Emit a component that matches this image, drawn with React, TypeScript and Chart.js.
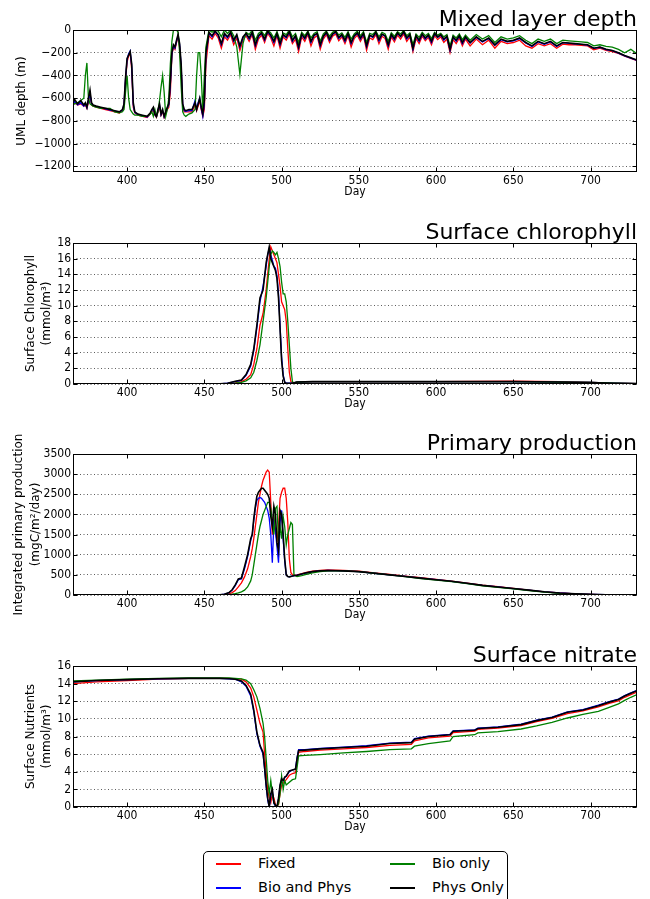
import React, { useEffect, useRef } from 'react';
import { Chart, registerables } from 'chart.js';

Chart.register(...registerables);

// ---------- shared ----------
const SERIES_NAMES = ['Fixed', 'Bio and Phys', 'Bio only', 'Phys Only'];
const SERIES_COLORS = ['#ff0000', '#0000ff', '#008000', '#000000'];
const X_TICKS = [400, 450, 500, 550, 600, 650, 700];
const DAY_MIN = 365;
const DAY_MAX = 730;

// ---------- Mixed layer depth ----------
const MLD_DAYS = [
  365, 366, 368, 370, 372, 373, 374, 375, 376, 377,
  378, 380, 383, 386, 389, 392, 395, 397, 398, 399,
  400, 401, 402, 403, 404, 405, 407, 410, 413, 415,
  416, 417, 418, 419, 420, 421, 422, 423, 424, 425,
  426, 427, 428, 429, 430, 431, 432, 433, 434, 435,
  436, 437, 438, 440, 442, 444, 445, 446, 447, 448,
  449, 450, 451,
  453, 455, 457, 459, 461, 463, 465, 467, 469, 471,
  473, 475, 477, 479, 481, 483, 485, 487, 489, 491,
  493, 495, 497, 499, 501, 503, 505, 507, 509, 511,
  513, 515, 517, 519, 521, 523, 525, 527, 529, 531,
  533, 535, 537, 539, 541, 543, 545, 547, 549, 551,
  553, 555, 557, 559, 561, 563, 565, 567, 569, 571,
  573, 575, 577, 579, 581, 583, 585, 587, 589, 591,
  593, 595, 597, 599, 601, 603, 605, 607, 609, 611,
  613, 615, 617, 619,
  622, 626, 630, 634, 638, 642, 646, 650, 654, 658,
  662, 666, 670, 674, 678, 682, 686, 690, 694, 698,
  702, 706, 710, 714, 718, 722, 726, 730,
];
const MLD_FIXED = [
  -660, -640, -660, -650, -670, -660, -690, -640, -560, -660,
  -670, -680, -690, -700, -710, -720, -730, -710, -680, -450,
  -280, -230, -200, -350, -680, -730, -750, -760, -770, -740,
  -720, -700, -750, -770, -720, -680, -750, -720, -770, -740,
  -700, -680, -550, -220, -150, -170, -110, -60, -150, -350,
  -680, -720, -720, -720, -720, -660, -710, -670, -620, -700,
  -760, -700, -300,
  -50, -80, -30, -70, -160, -60, -90, -40, -130, -70,
  -180, -90, -50, -100, -40, -170, -80, -45, -110, -30,
  -70, -140, -50, -160, -60, -90, -35, -120, -80, -190,
  -60, -100, -40, -140, -70, -50, -170, -80, -40, -110,
  -55, -35, -95, -60, -120, -50, -150, -75, -45, -100,
  -50, -180, -70, -85, -40, -120, -55, -75, -170, -60,
  -105, -45, -80, -35, -100, -60, -190, -75, -120, -55,
  -95, -65, -130, -50, -85, -60, -110, -80, -200, -85,
  -120, -70, -140, -80,
  -140, -80, -130, -90, -160, -100, -120, -110, -90, -140,
  -160, -120, -140, -120, -160, -125, -130, -130, -135, -140,
  -175, -160, -180, -190, -205, -230, -250, -270,
];
const MLD_BIOPHYS = [
  -650, -630, -660, -640, -670, -650, -685, -620, -560, -650,
  -665, -675, -685, -695, -705, -715, -725, -705, -660, -430,
  -260, -210, -185, -320, -660, -725, -745, -755, -765, -735,
  -710, -690, -745, -765, -710, -660, -745, -710, -765, -730,
  -690, -660, -480, -210, -140, -160, -100, -50, -130, -320,
  -660, -710, -715, -710, -710, -620, -700, -640, -600, -690,
  -760, -650, -220,
  -30, -60, -15, -50, -130, -40, -70, -25, -100, -50,
  -150, -70, -35, -80, -25, -140, -60, -30, -90, -15,
  -55, -110, -35, -130, -45, -70, -20, -100, -55, -160,
  -40, -80, -25, -110, -50, -35, -140, -60, -25, -90,
  -40, -20, -75, -45, -100, -35, -120, -55, -30, -80,
  -35, -150, -50, -65, -25, -95, -40, -55, -140, -45,
  -85, -30, -60, -20, -80, -45, -170, -55, -100, -40,
  -80, -50, -110, -35, -65, -45, -90, -60, -180, -65,
  -100, -55, -120, -65,
  -115, -65, -105, -75, -135, -85, -105, -95, -75, -115,
  -145, -105, -125, -105, -145, -112, -118, -122, -127, -133,
  -162, -152, -172, -182, -203, -228, -248, -268,
];
const MLD_BIO = [
  -660, -650, -640, -620, -600, -400, -290, -600, -650, -660,
  -670, -680, -690, -690, -690, -720, -730, -720, -700, -550,
  -400, -600, -700, -720, -740, -750, -750, -760, -760, -740,
  -720, -760, -700, -760, -720, -620, -500, -400, -550, -760,
  -700, -600, -300, -100, 0, 0, 0, -20, -200, -500,
  -720, -750, -760, -740, -730, -700, -400, -200, -200, -400,
  -720, -400, -150,
  0, -20, 0, -10, -60, 0, -30, 0, -50, -150,
  -390, -120, -20, -40, 0, -90, -30, -10, -50, 0,
  -25, -70, -15, -90, -25, -40, 0, -60, -30, -110,
  -20, -50, -10, -70, -30, -15, -100, -35, -10, -55,
  -20, -5, -45, -25, -65, -15, -80, -35, -10, -50,
  -15, -110, -30, -40, -10, -60, -20, -35, -100, -25,
  -55, -15, -35, -5, -50, -25, -130, -35, -65, -20,
  -50, -30, -75, -20, -45, -30, -60, -40, -140, -45,
  -70, -35, -85, -45,
  -90, -40, -80, -50, -110, -60, -80, -70, -50, -90,
  -120, -80, -100, -80, -120, -90, -95, -100, -105, -110,
  -140, -130, -145, -150, -170, -200, -170, -210,
];
const MLD_PHYS = [
  -640, -610, -650, -620, -660, -640, -680, -600, -530, -640,
  -660, -670, -680, -690, -700, -710, -720, -700, -650, -420,
  -250, -220, -190, -300, -640, -720, -740, -750, -760, -730,
  -700, -680, -740, -760, -700, -650, -740, -700, -760, -720,
  -680, -650, -450, -200, -130, -150, -90, -40, -120, -300,
  -650, -700, -710, -700, -700, -640, -700, -650, -600, -680,
  -740, -620, -200,
  -20, -50, -10, -40, -120, -30, -60, -20, -90, -40,
  -140, -60, -30, -70, -20, -130, -50, -25, -80, -10,
  -45, -100, -30, -120, -40, -60, -15, -90, -50, -150,
  -35, -70, -20, -100, -45, -30, -130, -55, -20, -80,
  -35, -15, -65, -40, -90, -30, -110, -50, -25, -70,
  -30, -140, -45, -60, -20, -85, -35, -50, -130, -40,
  -75, -25, -55, -15, -70, -40, -160, -50, -90, -35,
  -70, -45, -100, -30, -60, -40, -80, -55, -170, -60,
  -90, -50, -110, -60,
  -110, -60, -100, -70, -130, -80, -100, -90, -70, -110,
  -140, -100, -120, -100, -140, -110, -115, -120, -125, -130,
  -160, -150, -170, -180, -200, -225, -245, -265,
];
const MLD_TICKS = [-1200, -1000, -800, -600, -400, -200, 0];

// ---------- Surface chlorophyll ----------
const CHL_DAYS = [
  365, 400, 450, 460, 465, 470, 474, 477, 480, 482,
  484, 486, 488, 490, 491, 492, 493, 494, 495, 496,
  497, 498, 499, 500, 501, 502, 503, 504, 505, 506,
  507, 508, 510, 520, 550, 600, 650, 680, 700, 715, 730,
];
const CHL_FIXED = [
  0, 0, 0, 0.01, 0.05, 0.15, 0.3, 0.6, 1.2, 2.5,
  4.5, 7.5, 9, 12, 14, 16, 17.5, 17, 16.5, 16,
  15.5, 14, 12.5, 10.5, 10, 9.5, 8, 4.5, 1.5, 0.3,
  0.15, 0.15, 0.25, 0.3, 0.3, 0.3, 0.35, 0.3, 0.2, 0.1, 0.05,
];
const CHL_BIOPHYS = [
  0, 0, 0, 0.02, 0.1, 0.3, 0.45, 1.1, 2.3, 4.3,
  7.2, 10.5, 12.5, 15, 16.5, 17.3, 16.5, 15.8, 15, 14.8,
  13.8, 11.5, 7.5, 3.5, 1.2, 0.3, 0.1, 0.1, 0.1, 0.1,
  0.1, 0.15, 0.25, 0.3, 0.3, 0.3, 0.3, 0.25, 0.2, 0.1, 0.05,
];
const CHL_BIO = [
  0, 0, 0, 0, 0.03, 0.1, 0.2, 0.4, 0.8, 1.5,
  3, 5, 8, 11, 13, 15, 16.5, 17, 16.8, 16.5,
  16.8, 16, 15, 13, 11.5, 11.5, 10.5, 8, 5, 2,
  0.3, 0.15, 0.25, 0.3, 0.3, 0.3, 0.3, 0.25, 0.2, 0.1, 0.05,
];
const CHL_PHYS = [
  0, 0, 0, 0.02, 0.1, 0.35, 0.5, 1.2, 2.5, 4.5,
  7.5, 11, 12, 15.5, 16.5, 17.5, 16, 15.5, 15, 14.5,
  13.5, 11, 7, 3, 1, 0.2, 0.1, 0.1, 0.1, 0.1,
  0.1, 0.15, 0.25, 0.3, 0.3, 0.3, 0.3, 0.25, 0.2, 0.1, 0.05,
];
const CHL_TICKS = [0, 2, 4, 6, 8, 10, 12, 14, 16, 18];

// ---------- Primary production ----------
const PP_DAYS = [
  365, 400, 450, 460, 463, 466, 468, 470, 472, 474,
  476, 478, 480, 481, 482, 483, 484, 485, 486, 487,
  488, 489, 490, 491, 492, 493, 494, 495, 496, 497,
  498, 499, 500, 501, 502, 503, 504, 505, 506, 507,
  508, 510, 513, 516, 520, 525, 530, 540, 550, 560,
  570, 580, 590, 600, 610, 620, 630, 640, 650, 660,
  670, 680, 690, 700, 710, 720, 730,
];
const PP_FIXED = [
  0, 0, 0, 2, 10, 30, 60, 110, 200, 300,
  450, 650, 950, 1150, 1400, 1700, 2000, 2300, 2500, 2700,
  2850, 2950, 3050, 3100, 3050, 2300, 1500, 1900, 1600, 1350,
  1700, 2400, 2550, 2650, 2650, 2400, 1800, 900, 560, 500,
  490, 500, 530, 560, 590, 610, 620, 610, 590, 550,
  510, 470, 430, 390, 345, 295, 245, 205, 165, 120,
  80, 50, 28, 13, 5, 2, 0,
];
const PP_BIOPHYS = [
  0, 0, 0, 5, 20, 55, 120, 230, 380, 400,
  650, 950, 1350, 1500, 1850, 2150, 2350, 2400, 2420, 2400,
  2350, 2300, 2200, 2100, 1900, 1500, 800, 1800, 1600, 1200,
  800, 1800, 2100, 1400, 850, 500, 460, 450, 460, 470,
  480, 490, 520, 550, 580, 600, 610, 600, 580, 540,
  500, 460, 420, 380, 340, 290, 240, 200, 160, 120,
  80, 50, 30, 15, 6, 2, 0,
];
const PP_BIO = [
  0, 0, 0, 1, 3, 10, 20, 35, 55, 80,
  120, 200, 350, 500, 750, 1000, 1250, 1500, 1700, 1850,
  2000, 2100, 2200, 2300, 2300, 2150, 1800, 1500, 2150, 2200,
  1350, 1700, 1400, 1950, 1700, 1250, 1500, 1650, 1800, 1750,
  500, 460, 480, 510, 550, 580, 600, 600, 580, 540,
  500, 455, 410, 370, 330, 280, 230, 190, 150, 110,
  70, 40, 22, 10, 4, 1, 0,
];
const PP_PHYS = [
  0, 0, 0, 5, 20, 60, 130, 250, 400, 420,
  700, 1000, 1400, 1500, 1900, 2200, 2450, 2550, 2600, 2650,
  2650, 2600, 2550, 2500, 2400, 1950, 1700, 2200, 2000, 1300,
  1100, 2100, 2000, 1500, 900, 500, 460, 450, 460, 470,
  480, 490, 520, 550, 580, 600, 610, 600, 580, 540,
  500, 460, 420, 380, 340, 290, 240, 200, 160, 120,
  80, 50, 30, 15, 6, 2, 0,
];
const PP_TICKS = [0, 500, 1000, 1500, 2000, 2500, 3000, 3500];

// ---------- Surface nitrate ----------
const NO3_DAYS = [
  365, 380, 400, 420, 440, 460, 466, 470, 474, 477,
  480, 482, 484, 486, 488, 489, 490, 491, 492, 493,
  494, 495, 496, 497, 498, 499, 500, 501, 502, 503,
  505, 507, 509, 510, 511, 515, 525, 540, 555, 570,
  584, 586, 595, 609, 611, 625, 627, 640, 655, 665,
  675, 685, 695, 705, 712, 718, 722, 726, 730,
];
const NO3_FIXED = [
  14.0, 14.2, 14.35, 14.5, 14.6, 14.6, 14.6, 14.55, 14.5, 14.2,
  13.5, 12.5, 11, 9.5, 8.5, 6, 4, 2, 1, 0.5,
  1.5, 1, 0.3, 0.1, 0.3, 1.5, 2.5, 2.7, 2.9, 3.1,
  3.6, 3.8, 3.9, 5, 6.2, 6.3, 6.45, 6.6, 6.75, 7.0,
  7.1, 7.5, 7.85, 8.05, 8.45, 8.6, 8.8, 8.95, 9.25, 9.7,
  10.05, 10.6, 10.9, 11.35, 11.75, 12.05, 12.45, 12.75, 13.05,
];
const NO3_BIOPHYS = [
  14.2, 14.35, 14.45, 14.55, 14.6, 14.6, 14.55, 14.5, 14.2, 13.7,
  12.6, 10.8, 8.3, 6.9, 6.0, 4.3, 2.3, 0.8, 0, 1.3,
  1.8, 0.4, 0.1, 0, 0.9, 2.4, 3.1, 3, 3.3, 3.5,
  4.0, 4.2, 4.3, 5.6, 6.5, 6.5, 6.65, 6.8, 6.95, 7.25,
  7.35, 7.75, 8.05, 8.25, 8.65, 8.75, 8.95, 9.1, 9.4, 9.85,
  10.2, 10.8, 11.05, 11.55, 11.95, 12.25, 12.65, 12.95, 13.25,
];
const NO3_BIO = [
  14.3, 14.4, 14.5, 14.6, 14.65, 14.65, 14.65, 14.6, 14.55, 14.4,
  14.0, 13.3, 12.5, 11.2, 9.5, 8, 5.5, 3, 1.5, 3,
  1.5, 0.5, 0.2, 0, 0.4, 1.5, 3.5, 2, 3, 2.5,
  2.8, 3.1, 3.2, 4.5, 5.8, 5.85, 5.95, 6.15, 6.3, 6.5,
  6.6, 6.9, 7.2, 7.5, 8.0, 8.2, 8.4, 8.55, 8.85, 9.2,
  9.6, 10.1, 10.5, 10.85, 11.3, 11.7, 12.1, 12.45, 12.75,
];
const NO3_PHYS = [
  14.2, 14.35, 14.45, 14.55, 14.6, 14.6, 14.55, 14.5, 14.3, 13.8,
  12.8, 11, 8.5, 7, 6.2, 4.5, 2.5, 1, 0, 1.5,
  2, 0.5, 0.2, 0, 1, 2.5, 3.2, 3, 3.4, 3.5,
  4.1, 4.2, 4.3, 5.5, 6.4, 6.45, 6.6, 6.75, 6.9, 7.2,
  7.3, 7.7, 8.0, 8.2, 8.6, 8.7, 8.9, 9.05, 9.35, 9.8,
  10.15, 10.75, 11.0, 11.5, 11.9, 12.2, 12.6, 12.9, 13.2,
];
const NO3_TICKS = [0, 2, 4, 6, 8, 10, 12, 14, 16];

// ---------- layout ----------
const TICK_FONT = '"DejaVu Sans Condensed", "Liberation Sans Narrow", "DejaVu Sans", sans-serif';
const TEXT_FONT = '"DejaVu Sans", sans-serif';
const CANVAS_W = 650;
const CANVAS_H = 212;
const PAD_TOP = 30;
const Y_AXIS_W = 73;
const PAD_RIGHT = 13;
const X_AXIS_H = 27;

type PanelCfg = {
  top: number;
  bottom: number;
  title: string;
  ylabel: [string, number][];
  ymin: number;
  ymax: number;
  yticks: number[];
  days: number[];
  series: number[][];
};

const PANELS: PanelCfg[] = [
  {
    top: 30, bottom: 172, title: 'Mixed layer depth',
    ylabel: [['UML depth (m)', 22]],
    ymin: -1250, ymax: 0, yticks: MLD_TICKS, days: MLD_DAYS,
    series: [MLD_FIXED, MLD_BIOPHYS, MLD_BIO, MLD_PHYS],
  },
  {
    top: 243, bottom: 384, title: 'Surface chlorophyll',
    ylabel: [['Surface Chlorophyll', 31], ['(mmol/m\u00b3)', 47]],
    ymin: 0, ymax: 18, yticks: CHL_TICKS, days: CHL_DAYS,
    series: [CHL_FIXED, CHL_BIOPHYS, CHL_BIO, CHL_PHYS],
  },
  {
    top: 454, bottom: 595, title: 'Primary production',
    ylabel: [['Integrated primary production', 19], ['(mgC/m\u00b2/day)', 36]],
    ymin: 0, ymax: 3500, yticks: PP_TICKS, days: PP_DAYS,
    series: [PP_FIXED, PP_BIOPHYS, PP_BIO, PP_PHYS],
  },
  {
    top: 666, bottom: 807, title: 'Surface nitrate',
    ylabel: [['Surface Nutrients', 31], ['(mmol/m\u00b3)', 47]],
    ymin: 0, ymax: 16, yticks: NO3_TICKS, days: NO3_DAYS,
    series: [NO3_FIXED, NO3_BIOPHYS, NO3_BIO, NO3_PHYS],
  },
];

const decorPlugin = {
  id: 'decor',
  afterDraw(chart: any, _args: any, opts: any) {
    const { ctx, chartArea: a } = chart;
    ctx.save();
    ctx.strokeStyle = '#000';
    ctx.lineWidth = 1;
    const l = Math.round(a.left) + 0.5;
    const t = Math.round(a.top) + 0.5;
    const r = Math.round(a.right) - 0.5;
    const b = Math.round(a.bottom) - 0.5;
    ctx.strokeRect(l, t, r - l, b - t);
    const xs = chart.scales.x;
    const ys = chart.scales.y;
    ctx.beginPath();
    for (const tk of xs.ticks) {
      const px = Math.round(xs.getPixelForValue(tk.value)) + 0.5;
      ctx.moveTo(px, b);
      ctx.lineTo(px, b - 4);
      ctx.moveTo(px, t);
      ctx.lineTo(px, t + 4);
    }
    for (const tk of ys.ticks) {
      const py = Math.round(ys.getPixelForValue(tk.value)) + 0.5;
      ctx.moveTo(l, py);
      ctx.lineTo(l + 4, py);
      ctx.moveTo(r, py);
      ctx.lineTo(r - 4, py);
    }
    ctx.stroke();
    ctx.fillStyle = '#000';
    ctx.font = '22px ' + TEXT_FONT;
    ctx.textAlign = 'right';
    ctx.textBaseline = 'alphabetic';
    ctx.fillText(opts.title, a.right, a.top - 4);
    ctx.font = '12px ' + TEXT_FONT;
    ctx.textAlign = 'center';
    ctx.textBaseline = 'middle';
    const cy = (a.top + a.bottom) / 2;
    for (const [text, x] of opts.ylabel as [string, number][]) {
      ctx.save();
      ctx.translate(x, cy);
      ctx.rotate(-Math.PI / 2);
      ctx.fillText(text, 0, 0);
      ctx.restore();
    }
    ctx.restore();
  },
};

const fmt = (v: number) => (v < 0 ? '\u2212' + Math.abs(v) : String(v));

function Panel({ cfg }: { cfg: PanelCfg }) {
  const ref = useRef<HTMLCanvasElement | null>(null);
  useEffect(() => {
    if (!ref.current) return;
    const plotH = cfg.bottom - cfg.top;
    const padBottom = CANVAS_H - PAD_TOP - plotH - X_AXIS_H;
    const orders = [3, 2, 1, 0];
    const chart = new Chart(ref.current, {
      type: 'line',
      data: {
        datasets: cfg.series.map((vals, i) => ({
          label: SERIES_NAMES[i],
          data: cfg.days.map((d, j) => ({ x: d, y: vals[j] })),
          borderColor: SERIES_COLORS[i],
          backgroundColor: SERIES_COLORS[i],
          borderWidth: i === 3 ? 1.6 : 1.3,
          pointRadius: 0,
          tension: 0,
          fill: false,
          order: orders[i],
        })),
      },
      options: {
        responsive: false,
        animation: false,
        events: [],
        layout: { padding: { top: PAD_TOP, right: PAD_RIGHT, left: 0, bottom: padBottom } },
        plugins: {
          legend: { display: false },
          tooltip: { enabled: false },
          decor: { title: cfg.title, ylabel: cfg.ylabel },
        } as any,
        scales: {
          x: {
            type: 'linear',
            min: DAY_MIN,
            max: DAY_MAX,
            afterBuildTicks: (s: any) => { s.ticks = X_TICKS.map((v) => ({ value: v })); },
            afterFit: (s: any) => { s.height = X_AXIS_H; },
            grid: { display: false, drawTicks: false },
            border: { display: false },
            ticks: {
              autoSkip: false, maxRotation: 0, padding: 2, color: '#000',
              font: { family: TICK_FONT, size: 12 },
              callback: (v: any) => fmt(Number(v)),
            },
            title: {
              display: true, text: 'Day', color: '#000',
              font: { family: TICK_FONT, size: 12 },
              padding: { top: 0, bottom: 0 },
            },
          },
          y: {
            type: 'linear',
            min: cfg.ymin,
            max: cfg.ymax,
            afterBuildTicks: (s: any) => { s.ticks = cfg.yticks.map((v) => ({ value: v })); },
            afterFit: (s: any) => { s.width = Y_AXIS_W; },
            grid: { display: true, drawTicks: false, color: '#333', lineWidth: 0.8 },
            border: { display: false, dash: [1, 2.5] },
            ticks: {
              autoSkip: false, padding: 2, color: '#000',
              font: { family: TICK_FONT, size: 12 },
              callback: (v: any) => fmt(Number(v)),
            },
          },
        },
      } as any,
      plugins: [decorPlugin],
    });
    return () => chart.destroy();
  }, [cfg]);
  return (
    <canvas
      ref={ref}
      width={CANVAS_W}
      height={CANVAS_H}
      style={{ position: 'absolute', left: 0, top: cfg.top - PAD_TOP, width: CANVAS_W, height: CANVAS_H }}
    />
  );
}

const LEGEND_COLS = [[0, 1], [2, 3]];

function Legend() {
  return (
    <div
      style={{
        position: 'absolute', left: 203, top: 851, width: 305, height: 62,
        border: '1px solid #000', borderRadius: 5, boxSizing: 'border-box', background: '#fff',
        fontFamily: TEXT_FONT, fontSize: 14.5, color: '#000',
      }}
    >
      {LEGEND_COLS.map((col, ci) =>
        col.map((si, ri) => (
          <React.Fragment key={si}>
            <div
              style={{
                position: 'absolute', left: 12 + ci * 174, top: 11 + ri * 24, width: 25, height: 0,
                borderTop: `2px solid ${SERIES_COLORS[si]}`,
              }}
            />
            <div
              style={{
                position: 'absolute', left: 54 + ci * 174, top: 3 + ri * 24, lineHeight: '17px', whiteSpace: 'nowrap',
              }}
            >
              {SERIES_NAMES[si]}
            </div>
          </React.Fragment>
        ))
      )}
    </div>
  );
}

export default function App() {
  return (
    <div style={{ position: 'absolute', left: 0, top: 0, width: 650, height: 899, overflow: 'hidden', background: '#fff' }}>
      {PANELS.map((p, i) => (
        <Panel key={i} cfg={p} />
      ))}
      <Legend />
    </div>
  );
}
